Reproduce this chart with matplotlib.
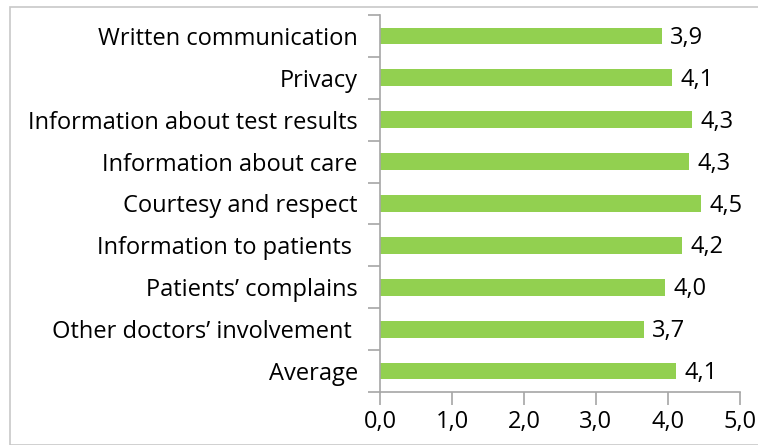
import matplotlib
matplotlib.use("Agg")
import matplotlib.pyplot as plt
from matplotlib.patches import Rectangle
from matplotlib.ticker import FixedLocator, FuncFormatter

categories = [
    "Written communication",
    "Privacy",
    "Information about test results",
    "Information about care",
    "Courtesy and respect",
    "Information to patients ",
    "Patients\u2019 complains",
    "Other doctors\u2019 involvement ",
    "Average",
]
values = [3.91, 4.06, 4.33, 4.29, 4.46, 4.19, 3.96, 3.66, 4.11]
xticks = [0, 1, 2, 3, 4, 5]

FONT = "Open Sans"
FS = 17
GRAY = "#A6A6A6"
GREEN = "#92D050"

fig = plt.figure(figsize=(7.58, 4.45), dpi=100)
W, H = 758, 445
# outer chart frame
fig.patches.append(Rectangle((10 / W, 0), 1.2, 1 - 7 / H, transform=fig.transFigure,
                             fill=False, edgecolor="#C8C8C8", linewidth=1.2))

ax = fig.add_axes([380 / W, 1 - 392 / H, (740 - 380) / W, (392 - 15) / H])

n = len(categories)
pos = list(range(n))[::-1]
ax.barh(pos, values, height=0.4, color=GREEN, edgecolor="none", zorder=2)

for p, v in zip(pos, values):
    ax.annotate(f"{v:.1f}".replace(".", ","), xy=(v, p), xytext=(6, -1.5),
                textcoords="offset points", ha="left", va="center",
                fontsize=FS, family=FONT, color="black")

ax.set_xlim(0, 5)
ax.set_ylim(-0.5, n - 0.5)
ax.set_xticks(xticks)
ax.xaxis.set_major_formatter(FuncFormatter(lambda x, _: f"{x:.1f}".replace(".", ",")))
ax.set_yticks(pos)
ax.set_yticklabels(categories)
ax.yaxis.set_minor_locator(FixedLocator([i - 0.5 for i in range(n + 1)]))

ax.tick_params(axis="y", which="major", length=0, pad=16)
ax.tick_params(axis="y", which="minor", length=9, width=1.2, color=GRAY, direction="out")
ax.tick_params(axis="x", which="major", length=9, width=1.2, color=GRAY, direction="out", pad=4)

for lab in ax.get_yticklabels() + ax.get_xticklabels():
    lab.set_fontfamily(FONT)
    lab.set_fontsize(FS)
    lab.set_color("black")

for s in ["top", "right"]:
    ax.spines[s].set_visible(False)
for s in ["left", "bottom"]:
    ax.spines[s].set_color(GRAY)
    ax.spines[s].set_linewidth(1.2)

fig.savefig("out.png", dpi=100)
